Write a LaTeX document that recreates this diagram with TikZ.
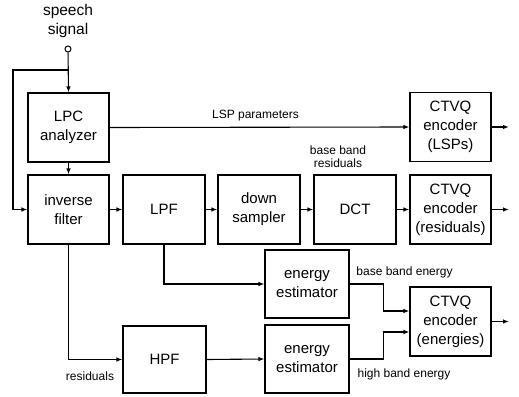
\documentclass[tikz,border=0pt]{standalone}
\usepackage{fontspec}
\setmainfont{Liberation Sans}
\usetikzlibrary{arrows.meta}
\begin{document}
\begin{tikzpicture}[x=1pt,y=-1pt,
  blk/.style={draw,line width=1.1pt,align=center,inner sep=0pt,font=\fontsize{15}{19}\selectfont},
  lbl/.style={align=center,inner sep=0pt,font=\fontsize{12}{13}\selectfont},
  arr/.style={line width=1.1pt,-{Latex[length=6pt,width=4.5pt]}},
  ln/.style={line width=1.1pt}]
\useasboundingbox (0,0) rectangle (519,396);
\node[align=center,inner sep=0pt,font=\fontsize{15.5}{19}\selectfont] (ttl) at (68,21) {speech\\signal};
\node[circle,draw,line width=1pt,minimum size=6pt,inner sep=0pt] (in) at (68,49) {};
\node[blk,minimum width=81pt,minimum height=69pt] (lpc) at (68.5,127.5) {LPC\\analyzer};
\node[blk,minimum width=81pt,minimum height=69pt] (inv) at (68.5,209.5) {inverse\\filter};
\node[blk,minimum width=82pt,minimum height=69pt] (lpf) at (164,209.5) {LPF};
\node[blk,minimum width=82pt,minimum height=69pt] (down) at (259,209.5) {down\\sampler};
\node[blk,minimum width=82pt,minimum height=69pt] (dct) at (355,209.5) {DCT};
\node[blk,minimum width=81pt,minimum height=69pt] (cr) at (450.5,209.5) {CTVQ\\encoder\\(residuals)};
\node[blk,minimum width=81pt,minimum height=69pt] (cl) at (450.5,127) {CTVQ\\encoder\\(LSPs)};
\node[blk,minimum width=84pt,minimum height=68pt] (ee1) at (307,284) {energy\\estimator};
\node[blk,minimum width=84pt,minimum height=68pt] (ee2) at (307,359) {energy\\estimator};
\node[blk,minimum width=81pt,minimum height=69pt] (ce) at (450.5,321.5) {CTVQ\\encoder\\(energies)};
\node[blk,minimum width=83pt,minimum height=67pt] (hpf) at (164.5,359.5) {HPF};
% labels
\node[lbl] (l1) at (255.5,116) {LSP parameters};
\node[lbl] (l2) at (338,156.5) {base band\\residuals};
\node[lbl] (l3) at (404.5,272) {base band energy};
\node[lbl] (l4) at (404,374) {high band energy};
\node[lbl] (l5) at (90,376) {residuals};
% connectors
\coordinate (br) at (68,70);
\coordinate (fb) at (13,70);
\draw[arr] (in) -- (lpc.north);
\draw[arr] (br) -- (fb) |- (inv.west);
\draw[arr] (lpc.south) -- (inv.north);
\draw[arr] (lpc.east) -- (cl.west);
\draw[arr] (inv.east) -- (lpf.west);
\draw[arr] (lpf.east) -- (down.west);
\draw[arr] (down.east) -- (dct.west);
\draw[arr] (dct.east) -- (cr.west);
\draw[arr] (lpf.south) |- (ee1.west);
\draw[arr] (inv.south) |- (hpf.west);
\draw[arr] (hpf.east) -- (ee2.west);
\draw[arr] (ee1.east) -- ++(34,0) |- ([yshift=10.5pt]ce.west);
\draw[arr] (ee2.east) -- ++(34,0) |- ([yshift=-10.5pt]ce.west);
\coordinate (o1) at (509,127);
\coordinate (o2) at (509,209.5);
\coordinate (o3) at (509,321.5);
\draw[arr] (cl.east) -- (o1);
\draw[arr] (cr.east) -- (o2);
\draw[arr] (ce.east) -- (o3);
\end{tikzpicture}
\end{document}
